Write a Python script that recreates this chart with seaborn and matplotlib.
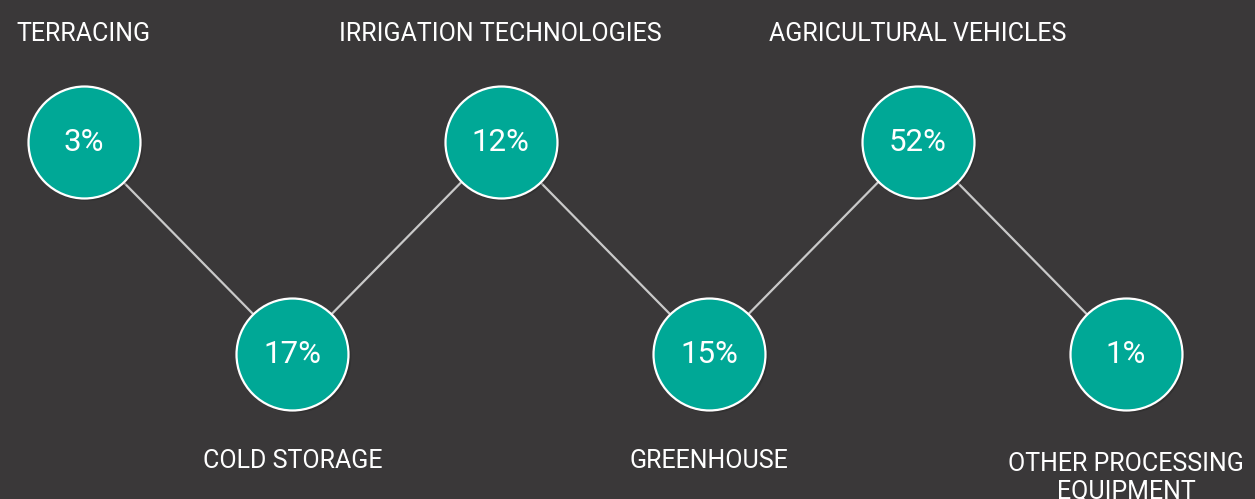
import matplotlib
matplotlib.use("Agg")
import matplotlib.pyplot as plt
import seaborn as sns
import pandas as pd

categories = ["TERRACING", "COLD STORAGE", "IRRIGATION TECHNOLOGIES", "GREENHOUSE",
              "AGRICULTURAL VEHICLES", "OTHER PROCESSING\nEQUIPMENT"]
values = [3, 17, 12, 15, 52, 1]
levels = [1, 0, 1, 0, 1, 0]

df = pd.DataFrame({"x": range(len(categories)), "y": levels,
                   "cat": categories, "val": values})

BG = "#3a3839"
TEAL = "#00a896"

sns.set_theme(style="white")
plt.rcParams["font.family"] = ["Roboto", "DejaVu Sans"]

fig = plt.figure(figsize=(12.55, 4.99), dpi=100, facecolor=BG)
ax = fig.add_axes([0, 0, 1, 1])
ax.set_facecolor(BG)

sns.lineplot(data=df, x="x", y="y", ax=ax, color="#c9c9c9", linewidth=1.6,
             sort=False, zorder=1)
# subtle shadow
sns.scatterplot(x=df["x"] + 0.012, y=df["y"] - 0.012, ax=ax, s=6600,
                color="#222222", alpha=0.35, edgecolor="none", zorder=2)
sns.scatterplot(data=df, x="x", y="y", ax=ax, s=6500, color=TEAL,
                edgecolor="white", linewidth=1.6, zorder=3)

FW = "normal"
for _, r in df.iterrows():
    ax.text(r["x"], r["y"], f"{r['val']}%", ha="center", va="center",
            color="white", fontsize=22.5, fontweight=FW, zorder=4)
    if r["y"] == 1:
        ax.text(r["x"], 1.508, r["cat"], ha="center", va="center",
                color="white", fontsize=18, fontweight=FW)
    elif "\n" in r["cat"]:
        ax.text(r["x"], -0.46, r["cat"], ha="center", va="top",
                color="white", fontsize=18, fontweight=FW, linespacing=1.2)
    else:
        ax.text(r["x"], -0.505, r["cat"], ha="center", va="center",
                color="white", fontsize=18, fontweight=FW)

ax.set_xlim(-0.403, 5.619)
ax.set_ylim(-0.684, 1.670)
ax.axis("off")

fig.savefig("out.png", dpi=100, facecolor=BG)
